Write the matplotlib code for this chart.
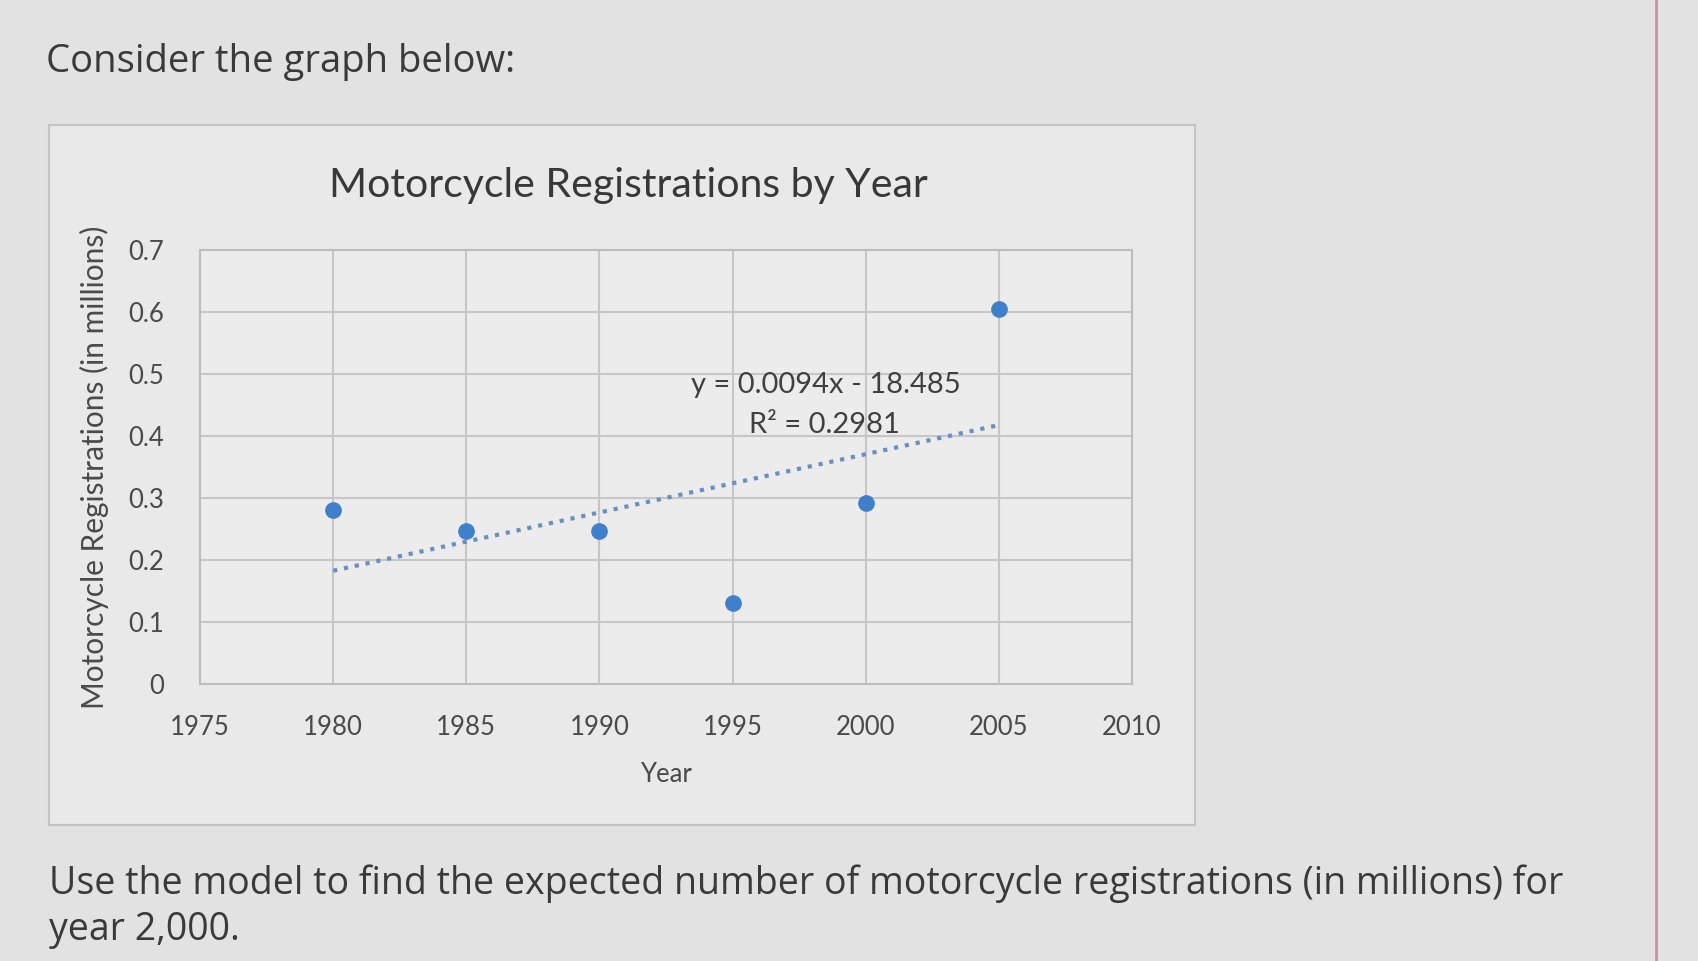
import numpy as np
import matplotlib
matplotlib.use("Agg")
import matplotlib.pyplot as plt
from matplotlib.patches import Rectangle

plt.rcParams['font.family'] = ['Lato', 'DejaVu Sans']

# data
years = [1980, 1985, 1990, 1995, 2000, 2005]
registrations = [0.28, 0.247, 0.246, 0.131, 0.292, 0.605]
x_ticks = [1975, 1980, 1985, 1990, 1995, 2000, 2005, 2010]
y_ticks = [0, 0.1, 0.2, 0.3, 0.4, 0.5, 0.6, 0.7]
eq_text = "y = 0.0094x - 18.485"
r2_text = "R² = 0.2981"

W, H = 1699, 961
fig = plt.figure(figsize=(W / 100, H / 100), dpi=100, facecolor='#e2e2e2')

# page text around the chart
fig.text(46 / W, 1 - 62 / H, "Consider the graph below:", fontsize=27.5,
         color='#3a3a3a', family=['Open Sans', 'DejaVu Sans'], va='center')
fig.text(49 / W, 1 - 884 / H,
         "Use the model to find the expected number of motorcycle registrations (in millions) for",
         fontsize=27, color='#3a3a3a', family=['Open Sans', 'DejaVu Sans'], va='center')
fig.text(49 / W, 1 - 930 / H, "year 2,000.", fontsize=27, color='#3a3a3a',
         family=['Open Sans', 'DejaVu Sans'], va='center')

# pink edge line on the right
fig.add_artist(plt.Line2D([1656 / W, 1656 / W], [0, 1], color='#d98aa8', lw=2,
                          transform=fig.transFigure))

# chart box
box = Rectangle((49 / W, 1 - 825 / H), (1195 - 49) / W, (825 - 125) / H,
                transform=fig.transFigure, fc='#e9e9e9', ec='#c4c4c4', lw=1.5, zorder=-5)
fig.add_artist(box)

fig.text(628 / W, 1 - 186 / H, "Motorcycle Registrations by Year", fontsize=29.5,
         color='#383838', ha='center', va='center')

ax = fig.add_axes([200 / W, 1 - 684 / H, 932 / W, 434 / H])
ax.set_zorder(2)
ax.set_facecolor('#ececec')
ax.set_xlim(1975, 2010)
ax.set_ylim(0, 0.7)
ax.set_xticks(x_ticks)
ax.set_yticks(y_ticks)
ax.set_yticklabels(['0' if v == 0 else f"{v:.1f}" for v in y_ticks])
ax.grid(True, color='#c6c6c6', lw=1.5)
ax.set_axisbelow(True)
for s in ax.spines.values():
    s.set_color('#bdbdbd')
    s.set_linewidth(1.5)
ax.tick_params(length=0, labelsize=18.5, labelcolor='#4a4a4a')
ax.tick_params(axis='x', pad=22)
ax.tick_params(axis='y', pad=26)

ax.plot(years, registrations, 'o', color='#3f7fcb', markersize=11, zorder=3)

# linear trendline
slope, icept = np.polyfit(years, registrations, 1)
tx = np.array([years[0], years[-1]])
ax.plot(tx, slope * tx + icept, ':', color='#6a8fc0', lw=3, zorder=2)

ax.text(0.672, 0.688, eq_text, transform=ax.transAxes, ha='center', va='center',
        fontsize=21, color='#404040')
ax.text(0.670, 0.596, r2_text, transform=ax.transAxes, ha='center', va='center',
        fontsize=21, color='#404040')

ax.set_xlabel("Year", fontsize=18.5, color='#4a4a4a', labelpad=16)
ax.set_ylabel("Motorcycle Registrations (in millions)", fontsize=21.5, color='#4a4a4a',
              labelpad=14)

fig.savefig("out.png", dpi=100, facecolor=fig.get_facecolor())
